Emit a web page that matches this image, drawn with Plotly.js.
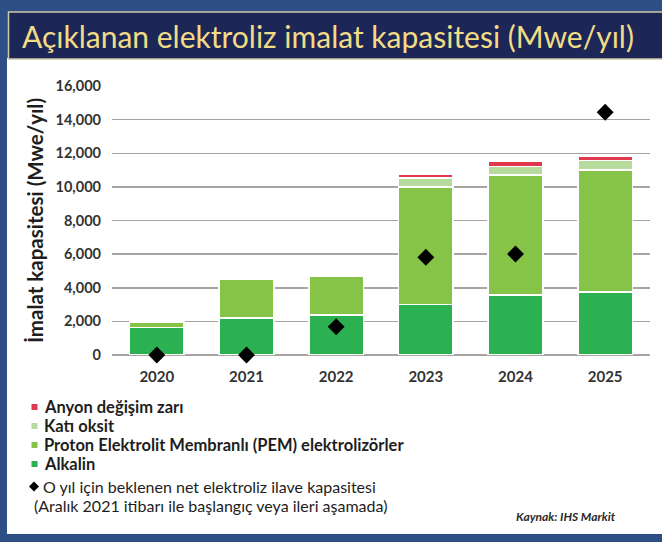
<!DOCTYPE html>
<html>
<head>
<meta charset="utf-8">
<script src="https://cdn.plot.ly/plotly-3.0.1.min.js"></script>
<style>
  html, body { margin: 0; padding: 0; background: #2d4f86; }
  #chart { width: 662px; height: 542px; }
</style>
</head>
<body>
<div id="chart"></div>
<script>
// ---- Data ----
const years = ['2020', '2021', '2022', '2023', '2024', '2025'];
const alkalin = [1650, 2200, 2380, 3000, 3570, 3750];
const pem = [300, 2320, 2320, 7000, 7140, 7250];
const katiOksit = [0, 0, 0, 520, 500, 560];
const anyon = [0, 0, 0, 250, 300, 250];
const netIlave = [0, 0, 1680, 5810, 6010, 14440];

const seriesNames = {
  anyon: 'Anyon değişim zarı',
  kati: 'Katı oksit',
  pem: 'Proton Elektrolit Membranlı (PEM) elektrolizörler',
  alkalin: 'Alkalin',
  net1: 'O yıl için beklenen net elektroliz ilave kapasitesi',
  net2: '(Aralık 2021 itibarı ile başlangıç veya ileri aşamada)'
};

const colors = {
  alkalin: '#2bb151',
  pem: '#86c447',
  kati: '#b7db9c',
  anyon: '#e0394f'
};

const FONT = 'Lato, "Open Sans", "DejaVu Sans", sans-serif';

// ---- Geometry helpers (plot area: x 112..650, y 86..355 px) ----
const L = 112, R = 12, T = 86, PH = 269, W = 662, H = 542;
const PW = W - L - R;
const px = x => (x - L) / PW;
const py = y => (T + PH - y) / PH;

function barTrace(name, vals, color) {
  return {
    type: 'bar', name: name, x: years, y: vals,
    marker: { color: color, line: { color: '#ffffff', width: 1.5 } },
    showlegend: false, hoverinfo: 'x+y+name'
  };
}

const traces = [
  barTrace(seriesNames.alkalin, alkalin, colors.alkalin),
  barTrace(seriesNames.pem, pem, colors.pem),
  barTrace(seriesNames.kati, katiOksit, colors.kati),
  barTrace(seriesNames.anyon, anyon, colors.anyon),
  {
    type: 'scatter', mode: 'markers', name: seriesNames.net1,
    x: years, y: netIlave, cliponaxis: false, showlegend: false,
    marker: { symbol: 'diamond', size: 13, color: '#000000' }
  }
];

// ---- Manual legend ----
const legendItems = [
  { text: '<b>' + seriesNames.anyon + '</b>', color: colors.anyon, y: 407 },
  { text: '<b>' + seriesNames.kati + '</b>', color: colors.kati, y: 426 },
  { text: '<b>' + seriesNames.pem + '</b>', color: colors.pem, y: 445 },
  { text: '<b>' + seriesNames.alkalin + '</b>', color: colors.alkalin, y: 464 }
];

const shapes = [
  // white panel
  { type: 'rect', xref: 'paper', yref: 'paper', layer: 'below',
    x0: px(7), x1: px(670), y0: py(534), y1: py(58),
    fillcolor: '#ffffff', line: { width: 0 } },
  // title box
  { type: 'rect', xref: 'paper', yref: 'paper', layer: 'below',
    x0: px(8.5), x1: px(672), y0: py(59), y1: py(12),
    fillcolor: '#1c2757', line: { color: '#cfc9a8', width: 1.5 } }
];
const annotations = [];
const LEG_SIZE = 16.5;
const NOTE_SIZE = 16;

legendItems.forEach(it => {
  shapes.push({
    type: 'rect', xref: 'paper', yref: 'paper',
    xsizemode: 'pixel', ysizemode: 'pixel',
    xanchor: px(34.5), yanchor: py(it.y),
    x0: -3, x1: 3, y0: -3, y1: 3,
    fillcolor: it.color, line: { width: 0 }
  });
  annotations.push({
    xref: 'paper', yref: 'paper', x: px(42), y: py(it.y),
    xanchor: 'left', yanchor: 'middle', showarrow: false,
    text: it.text, font: { family: FONT, size: LEG_SIZE, color: '#1e1e1e' }
  });
});
shapes.push({
  type: 'path', xref: 'paper', yref: 'paper',
  xsizemode: 'pixel', ysizemode: 'pixel',
  xanchor: px(34), yanchor: py(486.5),
  path: 'M0,5 L5,0 L0,-5 L-5,0 Z',
  fillcolor: '#000000', line: { width: 0 }
});
annotations.push({
  xref: 'paper', yref: 'paper', x: px(42), y: py(486),
  xanchor: 'left', yanchor: 'middle', showarrow: false, borderpad: 0,
  text: seriesNames.net1, font: { family: FONT, size: NOTE_SIZE, color: '#1e1e1e' }
});
annotations.push({
  xref: 'paper', yref: 'paper', x: px(33), y: py(505),
  xanchor: 'left', yanchor: 'middle', showarrow: false, borderpad: 0,
  text: seriesNames.net2, font: { family: FONT, size: NOTE_SIZE, color: '#1e1e1e' }
});
annotations.push({
  xref: 'paper', yref: 'paper', x: px(618), y: py(516),
  xanchor: 'right', yanchor: 'middle', showarrow: false,
  text: '<b><i>Kaynak: IHS Markit</i></b>', font: { family: FONT, size: 12, color: '#2a2a2a' }
});

const layout = {
  width: W, height: H,
  margin: { l: L, r: R, t: T, b: H - T - PH, pad: 0 },
  paper_bgcolor: '#2d4f86',
  plot_bgcolor: 'rgba(0,0,0,0)',
  barmode: 'stack',
  bargap: 0.39,
  showlegend: false,
  font: { family: FONT, color: '#333333' },
  title: {
    text: 'Açıklanan elektroliz imalat kapasitesi (Mwe/yıl)',
    xref: 'container', yref: 'container',
    x: 22 / W, xanchor: 'left', y: 1 - 37 / H, yanchor: 'middle',
    font: { family: FONT, size: 30, color: '#f3dc86' }
  },
  xaxis: {
    type: 'category', showgrid: false, zeroline: false, showline: false,
    ticks: '', tickfont: { family: FONT, size: 15, color: '#333333', weight: 'bold' },
    ticklabelstandoff: 11, automargin: false
  },
  yaxis: {
    range: [0, 16000], dtick: 2000, tickformat: ',d',
    showgrid: true, gridcolor: '#a8a4a0', gridwidth: 1.5,
    zeroline: true, zerolinecolor: '#a8a4a0', zerolinewidth: 1.5,
    showline: false, ticks: '', automargin: false,
    tickfont: { family: FONT, size: 14.5, color: '#333333', weight: 'bold' },
    ticklabelstandoff: 10,
    title: {
      text: 'İmalat kapasitesi (Mwe/yıl)', standoff: 6,
      font: { family: FONT, size: 20.5, color: '#1e1e1e', weight: 'bold' }
    }
  },
  shapes: shapes,
  annotations: annotations
};

Plotly.newPlot('chart', traces, layout, { displayModeBar: false, staticPlot: true });
</script>
</body>
</html>
